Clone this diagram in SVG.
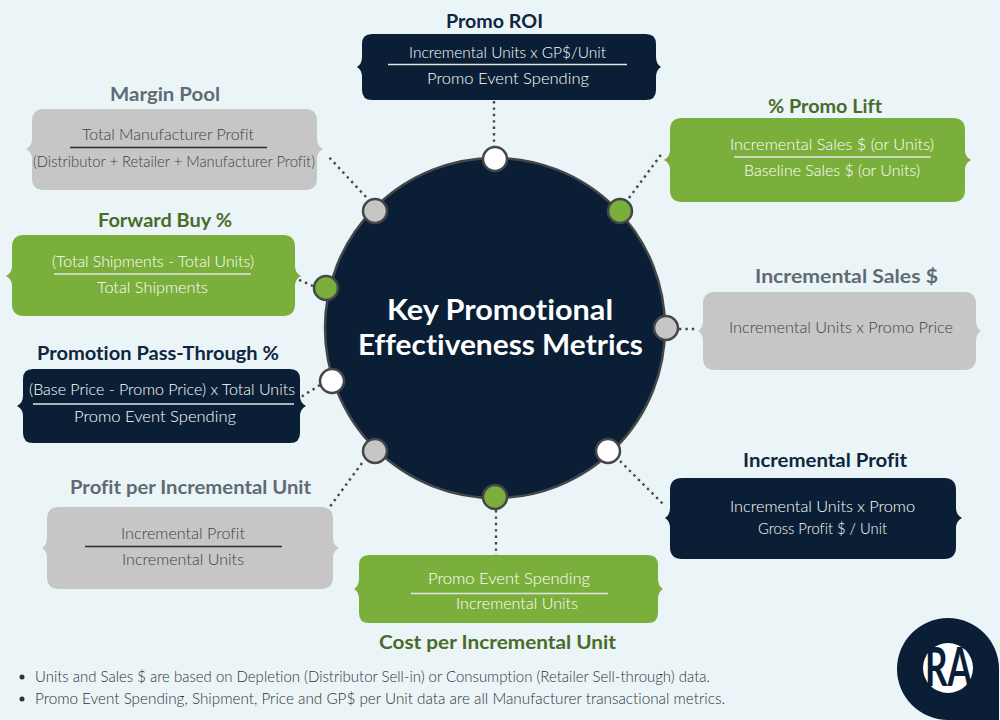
<svg xmlns="http://www.w3.org/2000/svg" width="1000" height="720" viewBox="0 0 1000 720">
<defs>
<style>
text{font-family:"Lato","Liberation Sans",sans-serif;text-anchor:start;font-variant-ligatures:none}
.t{font-size:19.5px;font-weight:700}
.b{font-size:16px;font-weight:300}
.w{fill:#fff}.d{fill:#3e4144}
.tn{fill:#0f2640}.tg{fill:#5f6b73}.tl{fill:#4a6b2a}
.navy{fill:#0a1f35}.green{fill:#7baf3c}.gray{fill:#c6c6c6}.white{fill:#fff}
.lw{stroke:#dfe6e3;stroke-width:1.3}.ld{stroke:#2b2d30;stroke-width:1.3}
.dot{stroke:#45484b;stroke-width:2.4;stroke-dasharray:2.4 4;fill:none}
.pin{stroke:#45464a;stroke-width:2.5}
.foot{font-size:14.6px;font-weight:300;fill:#2c3238}
</style>
</defs>
<rect width="1000" height="720" fill="#ebf5f7"/>
<g id="connectors">
<path class="dot" d="M494 101V147"/>
<path class="dot" d="M629 198L663 152"/>
<path class="dot" d="M679 329H698"/>
<path class="dot" d="M620 461L664 505"/>
<path class="dot" d="M496 510V555"/>
<path class="dot" d="M362 463L329 508"/>
<path class="dot" d="M320 385L301 397"/>
<path class="dot" d="M313 286L297 279"/>
<path class="dot" d="M366 197L327 155"/>
</g>
<g id="hub"><circle cx="495" cy="328" r="170" fill="#0a1f35" stroke="#45464a" stroke-width="2.5"/>
<text x="387" y="320" textLength="226" lengthAdjust="spacingAndGlyphs" font-size="29" font-weight="700" fill="#fff">Key Promotional</text>
<text x="358" y="355" textLength="285" lengthAdjust="spacingAndGlyphs" font-size="29" font-weight="700" fill="#fff">Effectiveness Metrics</text></g>
<g id="pins">
<circle class="pin white" cx="495" cy="159" r="12"/>
<circle class="pin green" cx="620" cy="211" r="12"/>
<circle class="pin gray" cx="666" cy="328" r="12"/>
<circle class="pin white" cx="608" cy="451" r="12"/>
<circle class="pin green" cx="495" cy="497" r="12"/>
<circle class="pin gray" cx="375" cy="451" r="12"/>
<circle class="pin white" cx="332" cy="381" r="12"/>
<circle class="pin green" cx="326" cy="288" r="12"/>
<circle class="pin gray" cx="375" cy="211" r="12"/>
</g>
<g id="promo-roi">
<text class="t tn" x="446" y="28" textLength="97" lengthAdjust="spacingAndGlyphs">Promo ROI</text>
<path class="navy" d="M372 34H646Q656 34 656 44V57Q656 64 661 67Q656 70 656 77V90Q656 100 646 100H372Q362 100 362 90V77Q362 70 357 67Q362 64 362 57V44Q362 34 372 34Z"/>
<text class="b w" x="409" y="58" textLength="197" lengthAdjust="spacingAndGlyphs">Incremental Units x GP$/Unit</text>
<line class="lw" x1="388" y1="64.5" x2="627" y2="64.5"/>
<text class="b w" x="427" y="84" textLength="162" lengthAdjust="spacingAndGlyphs">Promo Event Spending</text>
</g>
<g id="margin-pool">
<text class="t tg" x="110" y="101" textLength="110" lengthAdjust="spacingAndGlyphs">Margin Pool</text>
<path class="gray" d="M44 109H305Q317 109 317 121V139Q317 146 323 149Q317 152 317 159V178Q317 190 305 190H44Q32 190 32 178V159Q32 152 26 149Q32 146 32 139V121Q32 109 44 109Z"/>
<text class="b d" x="82" y="140" textLength="172" lengthAdjust="spacingAndGlyphs">Total Manufacturer Profit</text>
<line class="ld" x1="70" y1="147.5" x2="267" y2="147.5"/>
<text class="b d" x="33" y="167" textLength="282" lengthAdjust="spacingAndGlyphs">(Distributor + Retailer + Manufacturer Profit)</text>
</g>
<g id="forward-buy">
<text class="t tl" x="98" y="227" textLength="134" lengthAdjust="spacingAndGlyphs">Forward Buy %</text>
<path class="green" d="M24 235H283Q295 235 295 247V266Q295 273 301 276Q295 279 295 286V304Q295 316 283 316H24Q12 316 12 304V286Q12 279 6 276Q12 273 12 266V247Q12 235 24 235Z"/>
<text class="b w" x="52" y="267" textLength="202" lengthAdjust="spacingAndGlyphs">(Total Shipments - Total Units)</text>
<line class="lw" x1="54" y1="274" x2="251" y2="274"/>
<text class="b w" x="97" y="293" textLength="111" lengthAdjust="spacingAndGlyphs">Total Shipments</text>
</g>
<g id="pass-through">
<text class="t tn" x="37" y="360" textLength="242" lengthAdjust="spacingAndGlyphs">Promotion Pass-Through %</text>
<path class="navy" d="M33 369H290Q300 369 300 379V396Q300 403 306 406Q300 409 300 416V433Q300 443 290 443H33Q23 443 23 433V416Q23 409 17 406Q23 403 23 396V379Q23 369 33 369Z"/>
<text class="b w" x="29" y="395" textLength="266" lengthAdjust="spacingAndGlyphs">(Base Price - Promo Price) x Total Units</text>
<line class="lw" x1="33" y1="404" x2="294" y2="404"/>
<text class="b w" x="74" y="422" textLength="162" lengthAdjust="spacingAndGlyphs">Promo Event Spending</text>
</g>
<g id="profit-per-unit">
<text class="t tg" x="70" y="494" textLength="241" lengthAdjust="spacingAndGlyphs">Profit per Incremental Unit</text>
<path class="gray" d="M59 507H321Q333 507 333 519V538Q333 545 339 548Q333 551 333 558V577Q333 589 321 589H59Q47 589 47 577V558Q47 551 42 548Q47 545 47 538V519Q47 507 59 507Z"/>
<text class="b d" x="121" y="539" textLength="124" lengthAdjust="spacingAndGlyphs">Incremental Profit</text>
<line class="ld" x1="85" y1="546.5" x2="282" y2="546.5"/>
<text class="b d" x="122" y="565" textLength="122" lengthAdjust="spacingAndGlyphs">Incremental Units</text>
</g>
<g id="cost-per-unit">
<path class="green" d="M369 555H648Q658 555 658 565V579Q658 586 663 589Q658 592 658 599V613Q658 623 648 623H369Q359 623 359 613V599Q359 592 354 589Q359 586 359 579V565Q359 555 369 555Z"/>
<text class="b w" x="428" y="584" textLength="162" lengthAdjust="spacingAndGlyphs">Promo Event Spending</text>
<line class="lw" x1="411" y1="593.5" x2="608" y2="593.5"/>
<text class="b w" x="456" y="609" textLength="122" lengthAdjust="spacingAndGlyphs">Incremental Units</text>
<text class="t tl" x="379" y="649" textLength="237" lengthAdjust="spacingAndGlyphs">Cost per Incremental Unit</text>
</g>
<g id="incremental-profit">
<text class="t tn" x="743" y="467" textLength="164" lengthAdjust="spacingAndGlyphs">Incremental Profit</text>
<path class="navy" d="M682 478H944Q956 478 956 490V508Q956 515 962 518Q956 521 956 528V547Q956 559 944 559H682Q670 559 670 547V528Q670 521 665 518Q670 515 670 508V490Q670 478 682 478Z"/>
<text class="b w" x="730" y="512" textLength="185" lengthAdjust="spacingAndGlyphs">Incremental Units x Promo</text>
<text class="b w" x="758" y="534" textLength="129" lengthAdjust="spacingAndGlyphs">Gross Profit $ / Unit</text>
</g>
<g id="incremental-sales">
<text class="t tg" x="755" y="283" textLength="183" lengthAdjust="spacingAndGlyphs">Incremental Sales $</text>
<path class="gray" d="M715 292H964Q976 292 976 304V321Q976 328 981 331Q976 334 976 341V358Q976 370 964 370H715Q703 370 703 358V341Q703 334 698 331Q703 328 703 321V304Q703 292 715 292Z"/>
<text class="b d" x="729" y="333" textLength="224" lengthAdjust="spacingAndGlyphs">Incremental Units x Promo Price</text>
</g>
<g id="promo-lift">
<text class="t tl" x="768" y="113" textLength="114" lengthAdjust="spacingAndGlyphs">% Promo Lift</text>
<path class="green" d="M682 118H953Q965 118 965 130V150Q965 157 971 160Q965 163 965 170V190Q965 202 953 202H682Q670 202 670 190V170Q670 163 664 160Q670 157 670 150V130Q670 118 682 118Z"/>
<text class="b w" x="730" y="150" textLength="204" lengthAdjust="spacingAndGlyphs">Incremental Sales $ (or Units)</text>
<line class="lw" x1="734" y1="157" x2="931" y2="157"/>
<text class="b w" x="744" y="176" textLength="176" lengthAdjust="spacingAndGlyphs">Baseline Sales $ (or Units)</text>
</g>
<g id="footnotes">
<circle cx="22" cy="677" r="2.5" fill="#2c3238"/>
<text class="foot" x="35" y="682" textLength="675" lengthAdjust="spacingAndGlyphs">Units and Sales $ are based on Depletion (Distributor Sell-in) or Consumption (Retailer Sell-through) data.</text>
<circle cx="22" cy="699" r="2.5" fill="#2c3238"/>
<text class="foot" x="35" y="704" textLength="690" lengthAdjust="spacingAndGlyphs">Promo Event Spending, Shipment, Price and GP$ per Unit data are all Manufacturer transactional metrics.</text>
</g>
<g id="logo">
<path d="M948 618A51 51 0 0 1 999 669V720H948A51 51 0 0 1 948 618Z" fill="#0a1f35"/>
<circle cx="948" cy="668" r="25" fill="#fff"/>
<text x="925" y="686" textLength="47" lengthAdjust="spacingAndGlyphs" font-size="54" font-weight="700" fill="#0a1f35">RA</text>
</g>
</svg>
